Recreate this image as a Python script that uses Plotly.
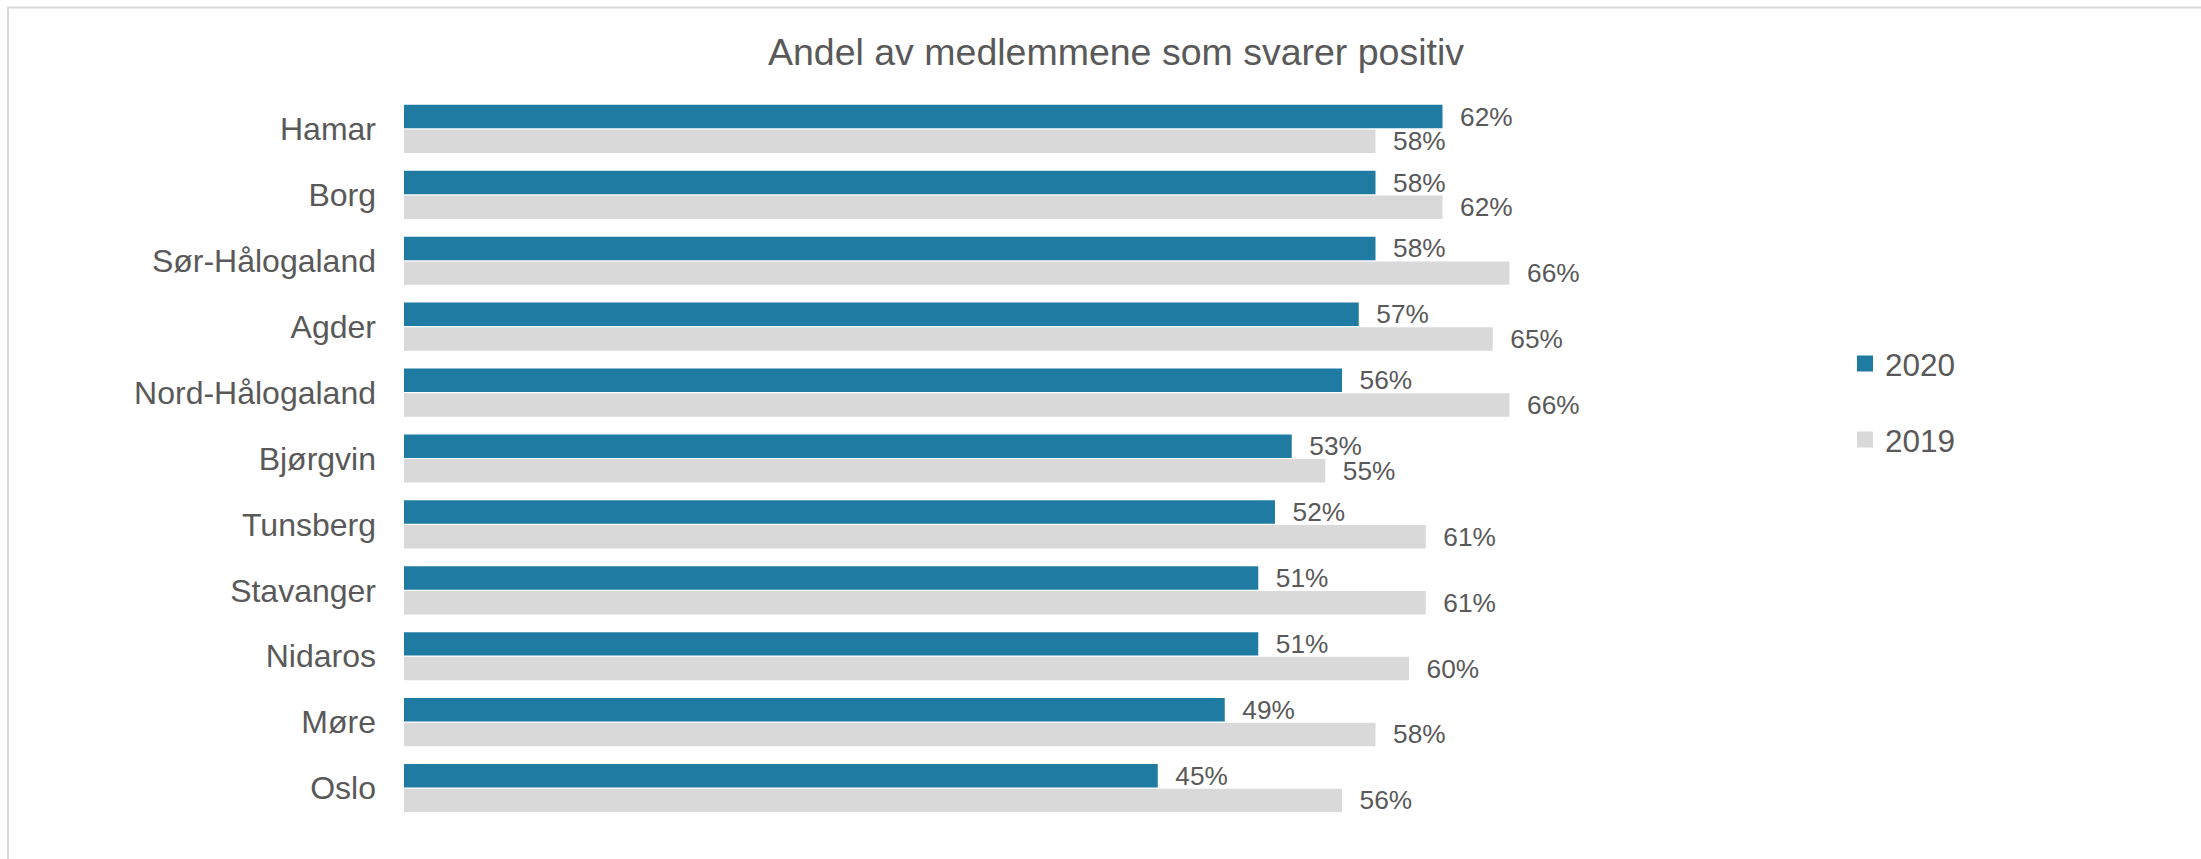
import plotly.graph_objects as go

# Survey results per diocese: share of members answering positively
categories = ["Hamar", "Borg", "Sør-Hålogaland", "Agder", "Nord-Hålogaland",
              "Bjørgvin", "Tunsberg", "Stavanger", "Nidaros", "Møre", "Oslo"]
values_2020 = [0.62, 0.58, 0.58, 0.57, 0.56, 0.53, 0.52, 0.51, 0.51, 0.49, 0.45]
values_2019 = [0.58, 0.62, 0.66, 0.65, 0.66, 0.55, 0.61, 0.61, 0.60, 0.58, 0.56]
series_names = ["2020", "2019"]

COLOR_2020 = "#1F7BA1"
COLOR_2019 = "#D9D9D9"
TEXT = "#595959"
FONT = "Liberation Sans, Arial, sans-serif"

W, H = 2201, 859
M_L, M_R, M_T, M_B = 404, 457, 95.5, 37.5
X_MAX = 0.8

fig = go.Figure()

for name, vals, color in [(series_names[0], values_2020, COLOR_2020),
                          (series_names[1], values_2019, COLOR_2019)]:
    fig.add_trace(go.Bar(
        name=name,
        y=categories,
        x=vals,
        orientation="h",
        marker=dict(color=color, line=dict(width=0)),
        text=[f"\u00a0\u00a0{v*100:.0f}%" for v in vals],
        textposition="outside",
        textfont=dict(family=FONT, size=26.25, color=TEXT),
        constraintext="none",
        cliponaxis=False,
        showlegend=False,
        hoverinfo="skip",
    ))

# Legend entries with larger square swatches
for name, color in [(series_names[0], COLOR_2020), (series_names[1], COLOR_2019)]:
    fig.add_trace(go.Scatter(
        name=name,
        x=[None], y=[None],
        mode="markers",
        marker=dict(symbol="square", size=16, color=color, line=dict(width=0)),
        legendgroup=name,
        showlegend=True,
    ))

plot_w = W - M_L - M_R
plot_h = H - M_T - M_B

# Outer chart frame (extends past the right and bottom edges)
fig.add_shape(
    type="rect", xref="paper", yref="paper",
    x0=(8 - M_L) / plot_w, x1=(W + 20 - M_L) / plot_w,
    y0=(H - M_B - (H + 20)) / plot_h, y1=(H - M_B - 7) / plot_h,
    line=dict(color="#D9D9D9", width=2), fillcolor="rgba(0,0,0,0)",
    layer="below",
)

fig.update_layout(
    width=W, height=H,
    margin=dict(l=M_L, r=M_R, t=M_T, b=M_B, pad=0),
    paper_bgcolor="white", plot_bgcolor="white",
    barmode="group",
    bargap=0.25,
    bargroupgap=0.05,
    font=dict(family=FONT, color=TEXT),
    title=dict(
        text="Andel av medlemmene som svarer positiv",
        font=dict(family=FONT, size=37.5, color=TEXT),
        x=1116 / W, xanchor="center", xref="container",
        y=1 - 52 / H, yanchor="middle", yref="container",
    ),
    xaxis=dict(range=[0, X_MAX], visible=False, showgrid=False, zeroline=False),
    yaxis=dict(
        autorange="reversed",
        showgrid=False, zeroline=False, showline=False,
        ticks="", ticklabelstandoff=27,
        tickfont=dict(family=FONT, size=32, color=TEXT),
    ),
    legend=dict(
        xref="container", yref="container",
        x=1845 / W, xanchor="left",
        y=1 - 401.5 / H, yanchor="middle",
        font=dict(family=FONT, size=31.5, color=TEXT),
        tracegroupgap=32,
        traceorder="grouped",
        bgcolor="rgba(0,0,0,0)",
    ),
)

fig.write_html("out.html")
